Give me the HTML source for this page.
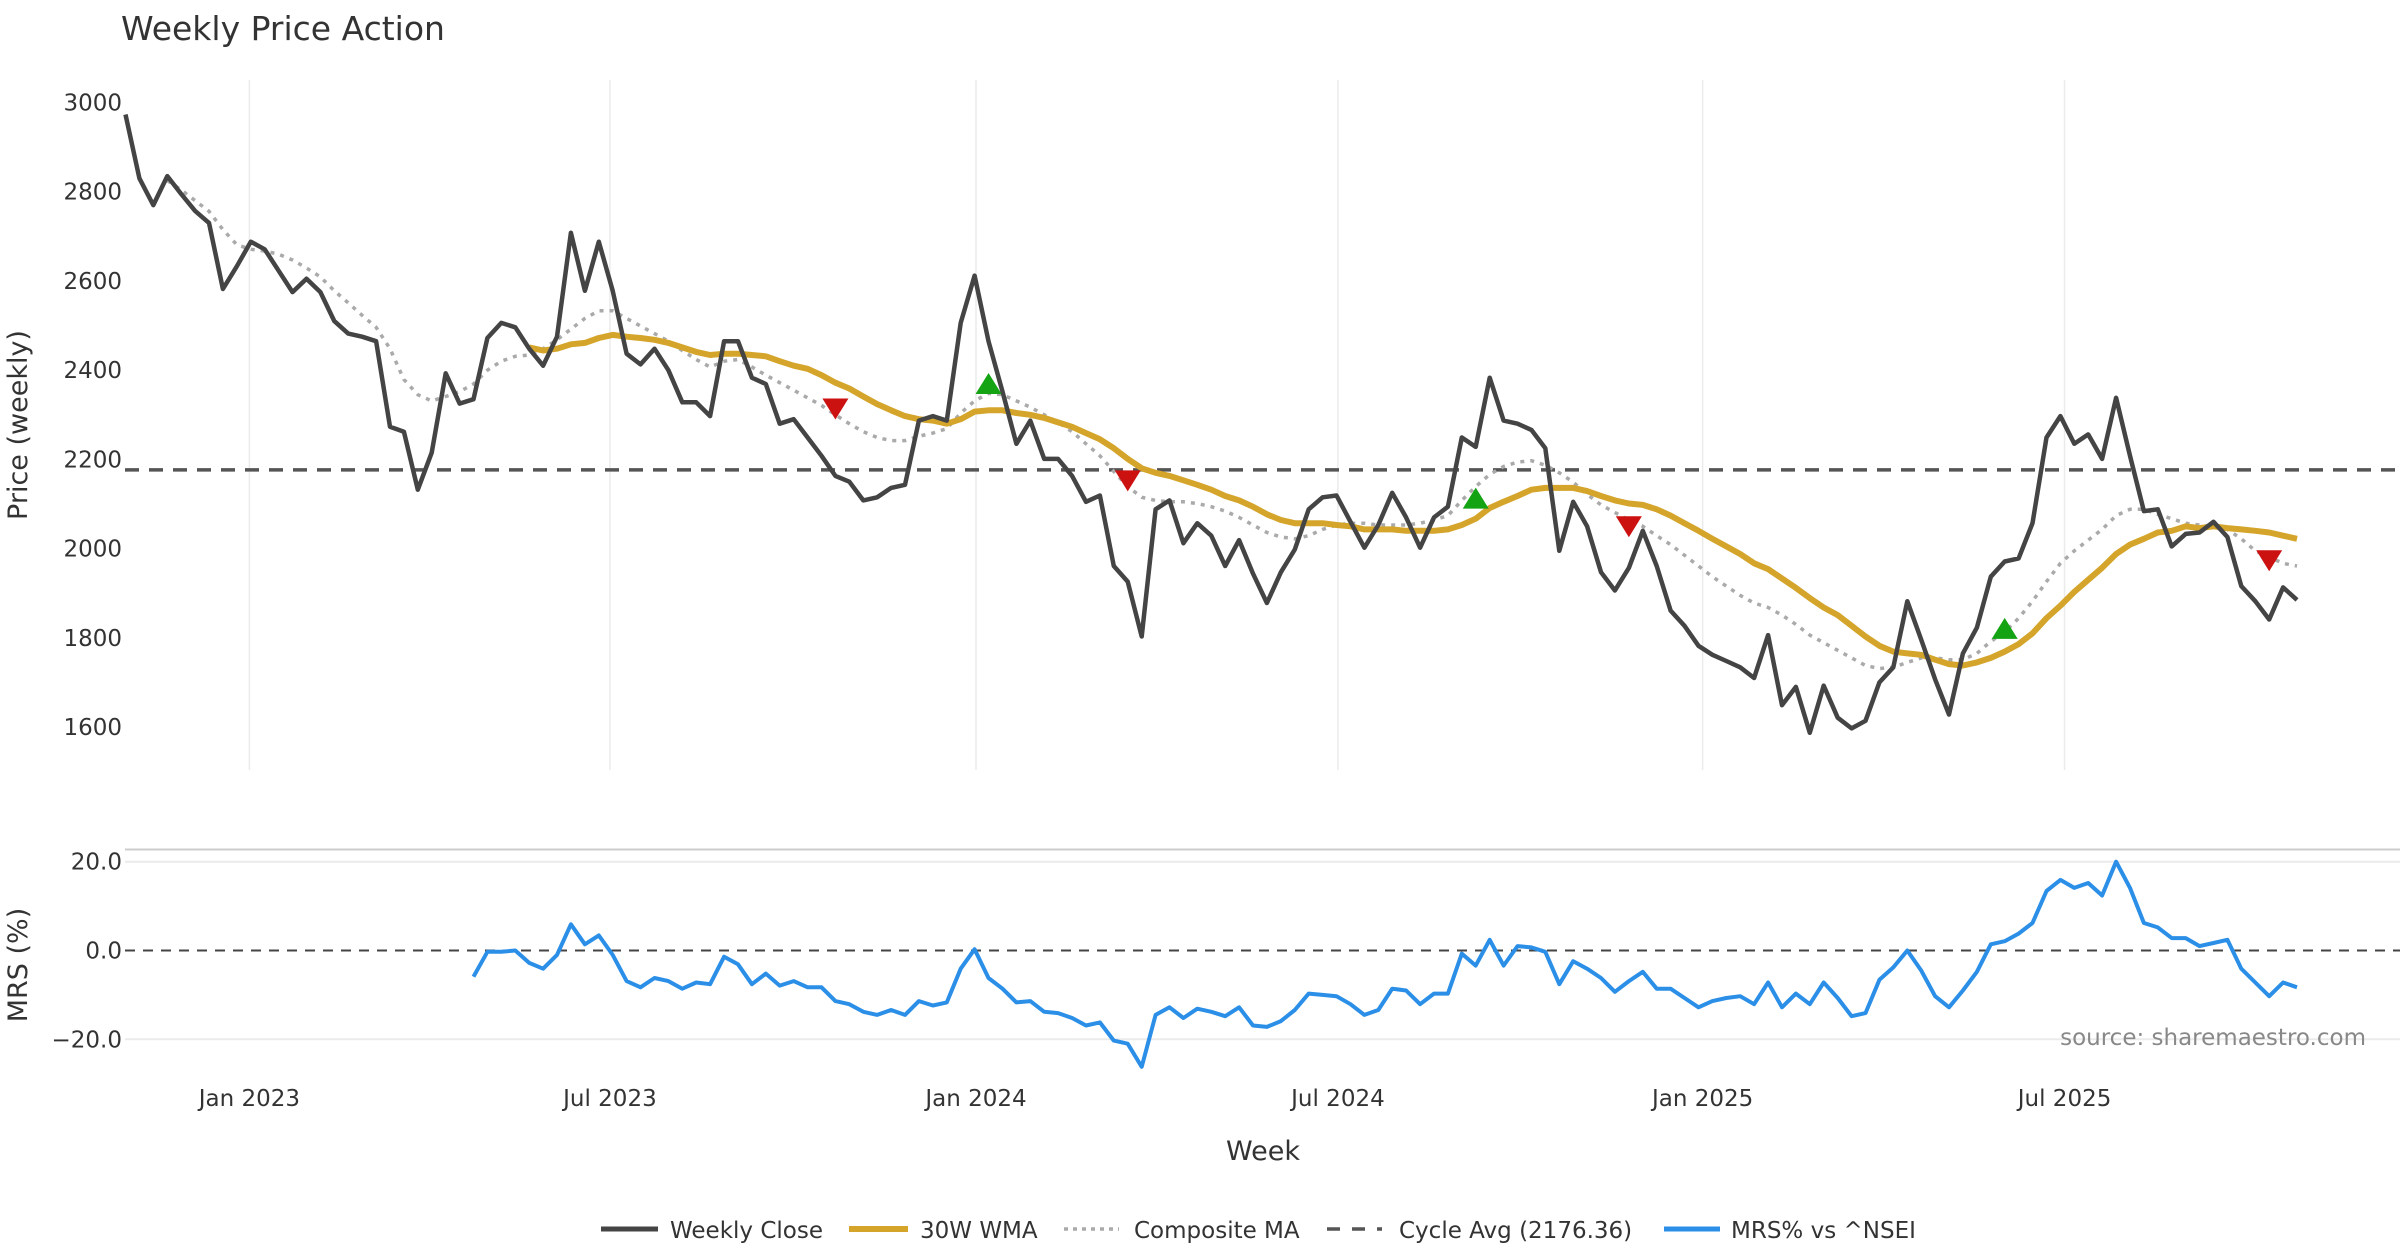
<!DOCTYPE html>
<html><head><meta charset="utf-8"><style>
html,body{margin:0;padding:0;background:#fff;}
svg{display:block;font-family:"DejaVu Sans","Liberation Sans",sans-serif;}
</style></head><body>
<svg id="chart" width="2400" height="1260" viewBox="0 0 2400 1260" xmlns="http://www.w3.org/2000/svg">
<text x="121" y="40" font-size="33" fill="#333">Weekly Price Action</text>
<g id="grid"></g>
<g id="axes"></g>
<g id="series"></g>
<text transform="translate(27,425) rotate(-90)" text-anchor="middle" font-size="27" fill="#333">Price (weekly)</text>
<text transform="translate(27,965) rotate(-90)" text-anchor="middle" font-size="27" fill="#333">MRS (%)</text>
<text x="1263" y="1160" text-anchor="middle" font-size="27" fill="#333">Week</text>
<text x="2366" y="1045" text-anchor="end" font-size="23" fill="#888">source: sharemaestro.com</text>
<g id="legend">
  <g><line x1="601" y1="1229" x2="658" y2="1229" stroke="#444" stroke-width="5"/><text x="670" y="1238" font-size="23" fill="#333">Weekly Close</text></g>
  <g><line x1="849" y1="1229" x2="908" y2="1229" stroke="#d4a52a" stroke-width="6"/><text x="920" y="1238" font-size="23" fill="#333">30W WMA</text></g>
  <g><line x1="1064" y1="1229" x2="1119" y2="1229" stroke="#aaa" stroke-width="3.5" stroke-dasharray="4,5"/><text x="1134" y="1238" font-size="23" fill="#333">Composite MA</text></g>
  <g><line x1="1327" y1="1229" x2="1382" y2="1229" stroke="#555" stroke-width="3.5" stroke-dasharray="13,12"/><text x="1399" y="1238" font-size="23" fill="#333">Cycle Avg (2176.36)</text></g>
  <g><line x1="1664" y1="1229" x2="1720" y2="1229" stroke="#2b8fe8" stroke-width="5"/><text x="1731" y="1238" font-size="23" fill="#333">MRS% vs ^NSEI</text></g>
</g>
</svg>
<script>
const closeVals=[2973,2830,2770,2835,2795,2757,2730,2582,2633,2688,
2671,2623,2575,2605,2575,2510,2482,2475,2465,2273,
2262,2132,2215,2393,2325,2335,2472,2506,2496,2448,
2410,2475,2708,2578,2688,2578,2437,2413,2448,2400,
2328,2328,2297,2465,2465,2383,2369,2280,2290,2249,
2208,2163,2150,2108,2115,2136,2143,2287,2297,2287,
2506,2612,2465,2352,2235,2287,2201,2201,2163,2105,
2119,1961,1926,1803,2088,2108,2012,2057,2029,1961,
2019,1944,1878,1947,1998,2088,2115,2119,2060,2002,
2053,2125,2070,2002,2070,2094,2249,2228,2383,2287,
2280,2266,2225,1995,2105,2050,1947,1906,1957,2040,
1961,1861,1827,1782,1762,1748,1734,1710,1806,1649,
1690,1587,1693,1621,1597,1614,1700,1734,1882,1796,
1707,1628,1765,1823,1937,1971,1978,2057,2249,2297,
2235,2256,2201,2338,2208,2084,2088,2005,2033,2036,
2060,2026,1916,1882,1841,1913,1885];
const wmaStart=29;
const wmaVals=[2451,2444,2448,2458,2461,2472,2479,2475,2472,2468,
2461,2451,2441,2434,2437,2437,2434,2431,2420,2410,
2403,2389,2372,2359,2341,2324,2310,2297,2290,2287,
2280,2290,2307,2310,2310,2304,2300,2293,2283,2273,
2259,2245,2225,2201,2180,2170,2163,2153,2143,2132,
2118,2108,2094,2077,2064,2057,2057,2057,2053,2050,
2043,2043,2043,2040,2040,2040,2043,2053,2067,2091,
2105,2118,2132,2136,2136,2136,2129,2118,2108,2101,
2098,2088,2074,2057,2040,2022,2005,1988,1967,1954,
1933,1912,1889,1868,1851,1827,1803,1782,1769,1765,
1762,1751,1741,1738,1745,1755,1769,1786,1810,1844,
1872,1903,1930,1957,1988,2009,2022,2036,2040,2050,
2046,2050,2046,2043,2040,2036,2029,2022];
const compStart=3;
const compVals=[2825,2804,2780,2756,2715,2681,2671,2667,2660,2647,
2629,2609,2578,2551,2523,2496,2448,2379,2345,2331,
2341,2352,2369,2400,2420,2431,2434,2448,2468,2492,
2516,2533,2533,2516,2499,2482,2465,2444,2424,2407,
2420,2424,2407,2389,2372,2355,2338,2321,2300,2280,
2262,2249,2242,2242,2252,2259,2269,2304,2331,2348,
2345,2331,2317,2300,2283,2262,2235,2208,2173,2139,
2115,2108,2105,2105,2101,2094,2084,2070,2053,2036,
2026,2022,2029,2043,2053,2057,2057,2053,2053,2053,
2057,2064,2074,2108,2139,2166,2184,2194,2197,2187,
2170,2149,2122,2098,2081,2064,2050,2029,2009,1985,
1961,1937,1916,1895,1878,1868,1851,1830,1806,1789,
1772,1755,1738,1731,1734,1745,1755,1755,1751,1751,
1765,1792,1813,1844,1882,1926,1967,1995,2019,2043,
2074,2088,2088,2077,2067,2057,2053,2050,2043,2022,
1995,1981,1967,1961];
const mrsStart=25;
const mrsVals=[-5.9,-0.3,-0.3,0,-2.8,-4.1,-1.0,5.9,1.4,3.4,
-1.0,-6.9,-8.3,-6.2,-6.9,-8.6,-7.2,-7.6,-1.4,-3.1,
-7.6,-5.2,-7.9,-6.9,-8.3,-8.3,-11.4,-12.1,-13.8,-14.5,
-13.4,-14.5,-11.4,-12.4,-11.7,-4.1,0.3,-6.2,-8.6,-11.7,
-11.4,-13.8,-14.1,-15.2,-16.9,-16.2,-20.3,-21.0,-26.2,-14.5,
-12.8,-15.2,-13.1,-13.8,-14.8,-12.8,-16.9,-17.2,-15.9,-13.4,
-9.7,-10.0,-10.3,-12.1,-14.5,-13.4,-8.6,-9.0,-12.1,-9.7,
-9.7,-0.7,-3.4,2.4,-3.4,1.0,0.7,-0.3,-7.6,-2.4,
-4.1,-6.2,-9.3,-6.9,-4.8,-8.6,-8.6,-10.7,-12.8,-11.4,
-10.7,-10.3,-12.1,-7.2,-12.8,-9.7,-12.1,-7.2,-10.7,-14.8,
-14.1,-6.6,-3.8,0,-4.5,-10.3,-12.8,-9.0,-4.8,1.4,
2.1,3.8,6.2,13.4,15.9,14.1,15.2,12.4,20.0,14.1,
6.2,5.2,2.8,2.8,1.0,1.7,2.4,-4.1,-7.2,-10.3,
-7.2,-8.3];
const cycleAvg=2176.36;
const buyIdx=[62,97,135];
const buyVals=[2369,2112,1820];
const sellIdx=[51,72,108,154];
const sellVals=[2314,2153,2050,1974];
const priceTicks=[1600,1800,2000,2200,2400,2600,2800,3000];
const mrsTicks=[-20,0,20];
const mrsTickLabels=["\u221220.0","0.0","20.0"];
const xTickIdx=[8.9,34.8,61.1,87.1,113.3,139.3];
const xTickLabels=["Jan 2023","Jul 2023","Jan 2024","Jul 2024","Jan 2025","Jul 2025"];

const NS="http://www.w3.org/2000/svg";
const xS=i=>125.5+i*13.92;
const yP=p=>102.5+(3000-p)*0.4461;
const yM=v=>950.5-v*4.439;
function mk(tag,attrs,parent){const e=document.createElementNS(NS,tag);for(const k in attrs)e.setAttribute(k,attrs[k]);parent.appendChild(e);return e;}
const grid=document.getElementById('grid'),axes=document.getElementById('axes'),series=document.getElementById('series');

xTickIdx.forEach((t,k)=>{
  const l=mk('line',{x1:xS(t),x2:xS(t),y1:80,y2:770,stroke:'#ebebeb','stroke-width':1.5},grid);
  
  
  const tx=mk('text',{x:xS(t),y:1106,'text-anchor':'middle','font-size':23,fill:'#333'},axes);
  tx.textContent=xTickLabels[k];
  
  
});
priceTicks.forEach(p=>{
  const tx=mk('text',{x:122,y:yP(p)+8,'text-anchor':'end','font-size':23,fill:'#333'},axes);
  tx.textContent=p;
  
  
});
const sep=mk('line',{x1:125,x2:2400,y1:849.5,y2:849.5,stroke:'#ccc','stroke-width':2},grid);


mrsTicks.forEach((v,k)=>{
  if(v!==0){const g=mk('line',{x1:125,x2:2400,y1:yM(v),y2:yM(v),stroke:'#ebebeb','stroke-width':2},grid);
  
  }
  const tx=mk('text',{x:122,y:yM(v)+8,'text-anchor':'end','font-size':23,fill:'#333'},axes);
  tx.textContent=mrsTickLabels[k];
  
  
});
const z=mk('line',{x1:125,x2:2400,y1:yM(0),y2:yM(0),stroke:'#444','stroke-width':2,'stroke-dasharray':'10,8'},grid);



const cy=mk('line',{x1:125,x2:2400,y1:yP(cycleAvg),y2:yP(cycleAvg),stroke:'#555','stroke-width':3.5,'stroke-dasharray':'14,10'},series);



function path(vals,start,yf){return vals.map((v,i)=>(i?'L':'M')+xS(start+i).toFixed(1)+' '+yf(v).toFixed(1)).join(' ');}
const comp=mk('path',{d:path(compVals,compStart,yP),fill:'none',stroke:'#aaa','stroke-width':3.5,'stroke-dasharray':'4,6'},series);


const wma=mk('path',{d:path(wmaVals,wmaStart,yP),fill:'none',stroke:'#d4a52a','stroke-width':6,'stroke-linejoin':'round'},series);


const cl=mk('path',{d:path(closeVals,0,yP),fill:'none',stroke:'#444','stroke-width':4.5,'stroke-linejoin':'round'},series);


const mr=mk('path',{d:path(mrsVals,mrsStart,yM),fill:'none',stroke:'#2b8fe8','stroke-width':4,'stroke-linejoin':'round'},series);



buyIdx.forEach((i,k)=>{const x=xS(i),y=yP(buyVals[k]);
  const t=mk('polygon',{points:`${x-13},${y+10} ${x+13},${y+10} ${x},${y-11}`,fill:'#13a313'},series);
  
  });
sellIdx.forEach((i,k)=>{const x=xS(i),y=yP(sellVals[k]);
  const t=mk('polygon',{points:`${x-13},${y-10} ${x+13},${y-10} ${x},${y+11}`,fill:'#cc1111'},series);
  
  });
</script>
</body></html>
